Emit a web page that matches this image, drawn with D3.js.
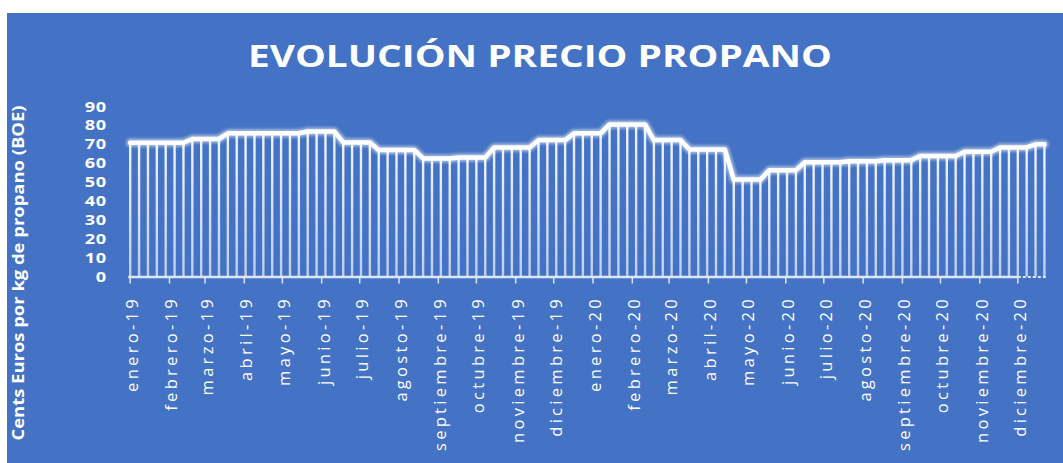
<!DOCTYPE html>
<html>
<head>
<meta charset="utf-8">
<script src="https://cdn.jsdelivr.net/npm/d3@7"></script>
<style>
  body { margin: 0; background: #fff; }
  svg { display: block; }
</style>
</head>
<body>
<div id="chart"></div>
<script>
// weekly price, cents euro per kg
var precios = [
  70.8, 70.8, 70.8, 70.8, 70.8, 70.8, 70.8,
  72.8, 72.8, 72.8, 72.8,
  75.8, 75.8, 75.8, 75.8, 75.8, 75.8, 75.8, 75.8, 75.8,
  76.8, 76.8, 76.8, 76.8,
  71.0, 71.0, 71.0, 71.0,
  67.0, 67.0, 67.0, 67.0, 67.0,
  62.5, 62.5, 62.5, 62.5,
  63.0, 63.0, 63.0, 63.0,
  68.3, 68.3, 68.3, 68.3, 68.3,
  72.2, 72.2, 72.2, 72.2,
  75.8, 75.8, 75.8, 75.8,
  80.5, 80.5, 80.5, 80.5, 80.5,
  72.2, 72.2, 72.2, 72.2,
  67.3, 67.3, 67.3, 67.3, 67.3,
  51.3, 51.3, 51.3, 51.3,
  56.3, 56.3, 56.3, 56.3,
  60.5, 60.5, 60.5, 60.5, 60.5,
  61.0, 61.0, 61.0, 61.0,
  61.6, 61.6, 61.6, 61.6,
  63.8, 63.8, 63.8, 63.8, 63.8,
  66.0, 66.0, 66.0, 66.0,
  68.3, 68.3, 68.3, 68.3,
  70.0, 70.0
];
var inicio = new Date(2019, 0, 1);
var mesesLabels = [
  "enero-19", "febrero-19", "marzo-19", "abril-19", "mayo-19", "junio-19",
  "julio-19", "agosto-19", "septiembre-19", "octubre-19", "noviembre-19", "diciembre-19",
  "enero-20", "febrero-20", "marzo-20", "abril-20", "mayo-20", "junio-20",
  "julio-20", "agosto-20", "septiembre-20", "octubre-20", "noviembre-20", "diciembre-20"
];
var yTicks = [0, 10, 20, 30, 40, 50, 60, 70, 80, 90];
var titulo = "EVOLUCIÓN PRECIO PROPANO";
var yTitulo = "Cents Euros por kg de propano (BOE)";

var width = 1063, height = 463;
var azul = "#4472c4";

var data = precios.map(function(v, i) {
  return { date: d3.timeDay.offset(inicio, 7 * i), value: v };
});

var svg = d3.select("#chart").append("svg")
  .attr("width", width)
  .attr("height", height);

svg.append("rect").attr("width", width).attr("height", height).attr("fill", "#fff");
svg.append("rect")
  .attr("x", 7).attr("y", 13)
  .attr("width", width - 7).attr("height", height - 13)
  .attr("fill", azul);

var defs = svg.append("defs");
var grad = defs.append("linearGradient")
  .attr("id", "barGrad")
  .attr("x1", 0).attr("y1", 0).attr("x2", 0).attr("y2", 1);
grad.append("stop").attr("offset", "0%").attr("stop-color", "#fff").attr("stop-opacity", 0.92);
grad.append("stop").attr("offset", "100%").attr("stop-color", "#fff").attr("stop-opacity", 0.65);
defs.append("filter").attr("id", "glow")
  .append("feGaussianBlur").attr("stdDeviation", 1.6);

var x = d3.scaleTime()
  .domain([new Date(2019, 0, 1), new Date(2020, 11, 1)])
  .range([130.2, 1017.8]);
var y = d3.scaleLinear().domain([0, 90]).range([276.5, 106.5]);

// title
svg.append("text")
  .attr("x", 540).attr("y", 67)
  .attr("text-anchor", "middle")
  .attr("font-family", "Open Sans")
  .attr("font-weight", "bold")
  .attr("font-size", 31)
  .attr("textLength", 584)
  .attr("lengthAdjust", "spacingAndGlyphs")
  .attr("fill", "#fff")
  .text(titulo);

// bars
svg.append("g").selectAll("rect")
  .data(data)
  .enter()
  .append("rect")
  .attr("x", function(d) { return x(d.date) - 1.2; })
  .attr("width", 2.4)
  .attr("y", function(d) { return y(d.value); })
  .attr("height", function(d) { return y(0) - y(d.value); })
  .attr("fill", "url(#barGrad)");

// x axis line + month ticks
var ultimo = data[data.length - 1].date;
svg.append("line")
  .attr("x1", x(inicio) - 2).attr("x2", x(new Date(2020, 11, 1)))
  .attr("y1", y(0) + 0.5).attr("y2", y(0) + 0.5)
  .attr("stroke", "#dfe6f3").attr("stroke-width", 2.5);
svg.append("line")
  .attr("x1", x(new Date(2020, 11, 1))).attr("x2", x(ultimo) + 2)
  .attr("y1", y(0) + 0.5).attr("y2", y(0) + 0.5)
  .attr("stroke", "#dfe6f3").attr("stroke-width", 2)
  .attr("stroke-dasharray", "3,2");

var meses = d3.timeMonth.range(new Date(2019, 0, 1), new Date(2021, 0, 1));
svg.append("g").selectAll("line")
  .data(meses)
  .enter()
  .append("line")
  .attr("x1", function(d) { return x(d); })
  .attr("x2", function(d) { return x(d); })
  .attr("y1", y(0)).attr("y2", y(0) + 7)
  .attr("stroke", "#dfe6f3").attr("stroke-width", 1.5);

svg.append("g").selectAll("text")
  .data(meses)
  .enter()
  .append("text")
  .attr("transform", function(d) { return "translate(" + (x(d) + 2) + ",296) rotate(-90)"; })
  .attr("dy", "0.36em")
  .attr("text-anchor", "end")
  .attr("font-family", "Open Sans")
  .attr("font-size", 16.5)
  .attr("letter-spacing", 3.3)
  .attr("fill", "#fff")
  .text(function(d, i) { return mesesLabels[i]; });

// y axis labels (slightly stretched sideways like the source)
svg.append("g").selectAll("text")
  .data(yTicks)
  .enter()
  .append("text")
  .attr("transform", function(d) { return "translate(107," + y(d) + ") scale(1.3,1)"; })
  .attr("dy", "0.36em")
  .attr("text-anchor", "end")
  .attr("font-family", "Open Sans")
  .attr("font-weight", "bold")
  .attr("font-size", 14)
  .attr("letter-spacing", 0.6)
  .attr("fill", "#fff")
  .text(function(d) { return d; });

svg.append("text")
  .attr("transform", "translate(18,273) rotate(-90)")
  .attr("dy", "0.36em")
  .attr("text-anchor", "middle")
  .attr("font-family", "Open Sans")
  .attr("font-weight", "bold")
  .attr("font-size", 16)
  .attr("textLength", 335)
  .attr("lengthAdjust", "spacingAndGlyphs")
  .attr("fill", "#fff")
  .text(yTitulo);

// thick step line with soft glow
var line = d3.line()
  .x(function(d) { return x(d.date); })
  .y(function(d) { return y(d.value); });
svg.append("path")
  .datum(data)
  .attr("d", line)
  .attr("fill", "none")
  .attr("stroke", "#fff")
  .attr("stroke-opacity", 0.55)
  .attr("stroke-width", 8)
  .attr("stroke-linejoin", "round")
  .attr("stroke-linecap", "round")
  .attr("filter", "url(#glow)");
svg.append("path")
  .datum(data)
  .attr("d", line)
  .attr("fill", "none")
  .attr("stroke", "#fff")
  .attr("stroke-width", 4.5)
  .attr("stroke-linejoin", "round")
  .attr("stroke-linecap", "round");
</script>
</body>
</html>
